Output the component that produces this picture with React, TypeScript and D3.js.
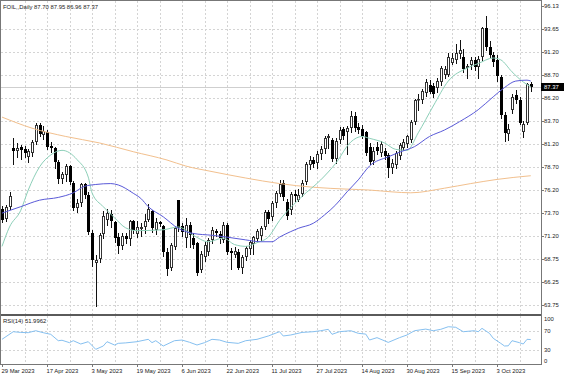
import React from 'react';
import * as d3 from 'd3';

const title = 'FOIL,,Daily  87.70 87.95 86.96 87.37';
const rsiTitle = 'RSI(14) 51.9962';
const lastPrice = 87.37;

const dateLabels = ['29 Mar 2023', '17 Apr 2023', '3 May 2023', '19 May 2023', '6 Jun 2023', '22 Jun 2023', '11 Jul 2023', '27 Jul 2023', '14 Aug 2023', '30 Aug 2023', '15 Sep 2023', '3 Oct 2023'];
const dateLabelBars = [0, 12, 24, 36, 48, 60, 72, 84, 96, 108, 120, 132];

const priceTicks = [96.13, 93.65, 91.2, 88.7, 86.2, 83.7, 81.2, 78.7, 76.2, 73.7, 71.2, 68.75, 66.25, 63.75];
const rsiTicks = [100, 70, 30, 0];
const rsiLevels = [70, 30];

// OHLC per daily bar, 29 Mar 2023 .. 16 Oct 2023
const opens = [74.2, 73.1, 74.4, 80.8, 80.4, 80.9, 80.6, 79.8, 80.2, 81.4, 83.2, 82.2, 82.5, 81.0, 80.7, 79.2, 77.4, 77.8, 78.8, 77.0,
  74.3, 74.8, 76.8, 75.7, 71.6, 68.3, 68.7, 71.4, 73.0, 73.6, 72.7, 71.1, 70.1, 71.2, 70.9, 72.8, 71.4, 72.0, 72.2, 73.0,
  73.9, 71.9, 72.7, 72.3, 69.5, 67.8, 70.0, 75.1, 72.3, 71.0, 72.4, 71.0, 70.5, 67.5, 68.9, 69.5, 70.8, 71.8, 71.4, 70.8,
  72.4, 69.6, 69.2, 69.5, 67.8, 68.9, 69.8, 70.4, 70.9, 71.2, 72.2, 73.8, 73.3, 74.8, 75.8, 77.0, 74.9, 74.0, 75.8, 75.1,
  75.8, 77.1, 78.9, 79.5, 79.1, 80.1, 80.6, 81.8, 81.6, 79.6, 81.6, 82.8, 82.5, 82.9, 84.2, 83.0, 82.8, 82.5, 80.9, 79.3,
  80.9, 80.2, 80.4, 80.0, 78.6, 78.9, 79.9, 80.8, 81.2, 81.6, 83.6, 85.9, 86.0, 86.7, 87.6, 87.5, 87.3, 87.9, 88.7, 88.7,
  90.0, 90.3, 90.9, 90.6, 89.4, 89.7, 90.3, 89.5, 90.6, 93.7, 91.7, 90.8, 90.3, 88.4, 84.3, 82.3, 84.9, 86.5, 86.0, 82.5,
  83.5, 87.70];
const highs = [74.5, 74.6, 76.0, 81.8, 81.3, 81.1, 81.0, 80.6, 81.6, 83.5, 83.5, 83.1, 82.7, 81.4, 80.9, 79.5, 78.1, 79.0, 78.9, 77.2,
  75.2, 77.0, 77.0, 76.0, 71.9, 69.2, 71.6, 73.9, 74.2, 74.0, 72.9, 71.6, 71.6, 71.6, 73.0, 73.0, 72.8, 72.6, 73.6, 74.7,
  74.0, 73.2, 72.9, 72.4, 69.9, 70.5, 72.3, 75.1, 72.6, 73.2, 72.7, 71.6, 70.6, 69.6, 70.6, 71.0, 72.2, 72.0, 71.8, 72.7,
  72.6, 69.9, 70.0, 69.8, 69.2, 70.1, 70.8, 71.2, 72.0, 72.3, 74.0, 74.0, 75.0, 76.1, 77.3, 77.3, 75.2, 76.0, 76.2, 76.3,
  77.3, 79.2, 79.9, 79.8, 80.4, 81.0, 82.0, 82.3, 81.8, 81.8, 83.0, 83.0, 83.1, 84.8, 84.6, 83.5, 83.2, 82.6, 81.3, 80.9,
  81.4, 81.5, 80.7, 80.2, 79.6, 80.4, 81.3, 81.7, 82.2, 83.8, 86.1, 86.6, 87.1, 88.2, 88.1, 87.8, 88.3, 89.6, 89.6, 91.0,
  91.0, 92.0, 92.4, 91.5, 89.9, 90.6, 90.6, 90.7, 93.9, 95.05, 92.3, 91.2, 90.8, 88.7, 84.6, 83.4, 86.6, 87.0, 86.3, 83.7,
  87.8, 87.95];
const lows = [72.7, 72.9, 74.2, 79.0, 79.8, 79.6, 79.8, 79.2, 79.9, 81.2, 82.0, 81.7, 80.6, 80.3, 78.6, 77.0, 77.0, 77.2, 76.8, 74.0,
  73.8, 74.5, 75.3, 71.4, 68.0, 63.65, 68.4, 71.0, 72.4, 72.2, 70.6, 69.4, 69.8, 70.5, 70.2, 71.5, 71.1, 71.2, 71.5, 72.8,
  71.7, 71.4, 72.3, 69.1, 67.0, 67.5, 69.8, 71.8, 71.2, 70.0, 70.0, 69.9, 67.0, 67.3, 68.5, 69.2, 70.5, 71.2, 70.5, 70.6,
  69.3, 67.6, 68.9, 67.6, 67.2, 68.6, 69.3, 69.3, 70.6, 70.8, 72.0, 72.6, 73.0, 74.4, 75.5, 75.1, 73.1, 73.6, 75.0, 75.0,
  75.5, 76.9, 78.5, 78.7, 78.6, 79.6, 80.2, 80.8, 79.3, 79.1, 81.3, 81.7, 80.1, 82.5, 82.6, 82.4, 81.8, 80.0, 79.0, 79.0,
  80.1, 79.9, 79.6, 77.6, 78.0, 78.6, 79.6, 80.5, 80.9, 81.4, 83.4, 84.9, 85.6, 86.4, 86.7, 86.3, 86.8, 87.6, 88.3, 88.5,
  89.9, 90.0, 90.5, 89.0, 88.3, 89.3, 89.2, 88.3, 90.3, 91.4, 90.6, 89.6, 88.0, 84.0, 81.5, 81.6, 84.5, 85.6, 83.3, 81.9,
  83.3, 86.96];
const closes = [73.0, 74.4, 75.6, 80.4, 80.8, 80.5, 80.2, 80.4, 81.4, 83.2, 82.3, 82.6, 80.9, 80.8, 79.2, 77.4, 77.9, 78.8, 77.1, 74.3,
  74.8, 76.8, 75.7, 71.7, 68.6, 68.6, 71.3, 73.4, 73.7, 72.8, 71.0, 70.1, 71.2, 70.9, 72.8, 71.9, 72.2, 72.2, 72.9, 74.2,
  72.1, 72.7, 72.5, 69.5, 67.6, 70.3, 72.1, 72.1, 71.7, 72.4, 71.3, 70.3, 67.2, 69.3, 70.3, 70.8, 71.9, 71.5, 71.0, 72.4,
  69.5, 69.4, 69.6, 67.8, 68.9, 69.9, 70.6, 71.1, 71.8, 72.1, 73.8, 73.1, 74.8, 75.9, 76.9, 75.4, 73.4, 75.8, 75.5, 75.7,
  77.0, 79.0, 79.5, 79.0, 80.1, 80.6, 81.8, 82.1, 79.6, 81.5, 82.7, 82.0, 82.9, 84.2, 82.9, 82.7, 82.1, 80.2, 79.2, 80.4,
  80.4, 81.2, 79.9, 78.6, 79.1, 80.2, 81.1, 81.4, 82.0, 83.6, 86.0, 86.1, 86.9, 87.9, 86.8, 86.6, 88.0, 89.4, 89.3, 90.6,
  90.5, 91.0, 91.4, 89.3, 89.6, 90.3, 89.5, 90.4, 93.7, 91.7, 90.8, 90.1, 88.5, 84.3, 82.4, 82.8, 86.3, 86.0, 83.5, 83.3,
  87.7, 87.37];

// Indicator readings: [bar index, value]
const fastMA: [number, number][] = [[0, 70.1], [2, 72.2], [5, 74.0], [7, 76.2], [10, 78.7], [13, 80.0], [16, 80.5], [20, 79.5], [23, 77.6], [24, 75.9],
  [27, 74.4], [30, 73.2], [33, 72.1], [36, 71.8], [43, 71.9], [47, 72.2], [51, 71.3], [55, 70.6], [59, 71.0], [62, 70.3], [65, 70.1],
  [68, 70.5], [71, 71.1], [74, 72.9], [80, 75.5], [85, 77.3], [89, 79.1], [93, 81.4], [96, 82.0], [98, 81.8], [102, 81.3], [105, 80.6],
  [108, 80.5], [111, 82.4], [115, 85.3], [119, 88.0], [124, 89.4], [127, 89.9], [131, 90.5], [133, 90.3], [136, 89.0], [139, 87.9], [141, 87.4]];
const midMA: [number, number][] = [[0, 73.7], [5, 74.4], [10, 75.1], [15, 75.4], [19, 75.9], [22, 76.6], [25, 76.8], [29, 76.9], [31, 76.75],
  [35, 75.85], [37, 75.3], [39, 74.4], [43, 73.3], [47, 72.05], [51, 71.5], [56, 71.3], [60, 71.1], [65, 70.8], [69, 70.6], [72, 70.6],
  [74, 71.1], [77, 71.7], [79, 72.05], [83, 72.6], [86, 73.5], [89, 74.6], [92, 76.0], [95, 77.3], [98, 78.8], [103, 79.8], [106, 80.3],
  [110, 80.9], [114, 82.0], [118, 82.7], [122, 83.6], [127, 84.9], [131, 86.3], [134, 87.3], [137, 88.0], [140, 88.1], [141, 88.0]];
const slowMA: [number, number][] = [[0, 84.1], [8, 82.9], [17, 82.0], [26, 81.3], [35, 80.35], [44, 79.45], [49, 78.8], [56, 78.2], [65, 77.5],
  [74, 76.9], [83, 76.5], [92, 76.3], [98, 76.2], [104, 76.0], [109, 75.9], [118, 76.4], [125, 76.9], [132, 77.35], [141, 77.75]];
const rsi: [number, number][] = [[0, 52.5], [3, 68.5], [5, 67], [7, 66.5], [9, 70.6], [11, 66.4], [13, 63], [15, 49.6], [16, 50.5], [18, 45.4],
  [19, 49.6], [21, 42.6], [23, 47.5], [25, 31.4], [27, 38.4], [28, 47.5], [30, 40.5], [31, 44.0], [33, 45], [36, 47.5], [39, 52.5],
  [40, 45.5], [41, 49.6], [43, 38.4], [46, 49.6], [48, 51], [50, 46.3], [52, 40.5], [54, 45.4], [56, 52.5], [58, 51], [60, 46.2],
  [63, 44.0], [65, 49.6], [68, 52.5], [71, 59.5], [74, 68.5], [75, 59.5], [77, 61.6], [80, 67], [83, 68.5], [85, 70.6], [87, 73.5],
  [88, 63], [90, 68.5], [93, 70.6], [95, 65.1], [97, 63.5], [98, 51], [100, 56], [103, 46], [106, 56], [108, 61.6], [110, 70.6],
  [113, 74], [115, 70.6], [117, 73.5], [119, 79], [121, 77.8], [123, 68.5], [126, 70.6], [127, 68.5], [128, 75.6], [130, 65],
  [131, 54.6], [133, 44], [134, 38.4], [135, 38.8], [136, 49.6], [138, 45.4], [139, 42.6], [140, 52.5], [141, 52.0]];

const W = 564;
const H = 376;
const left = 1;
const right = 541;
const mainTop = 1;
const mainBottom = 314;
const rsiTop = 316;
const rsiBottom = 364;
const FONT = '"Liberation Sans", Arial, sans-serif';
const FS = 5.9;

export default function App() {
  const n = closes.length;
  const x = d3.scaleLinear().domain([0, n - 1]).range([2, 530.75]);
  const y = d3.scaleLinear().domain([63.75, 96.13]).range([305, 6]);
  const ry = d3.scaleLinear().domain([0, 100]).range([364.25, 316.75]);

  const mainLine = d3.line<[number, number]>().x(d => x(d[0])).y(d => y(d[1])).curve(d3.curveMonotoneX);
  const rsiLine = d3.line<[number, number]>().x(d => x(d[0])).y(d => ry(d[1]));

  const gridBars = d3.range(6, n, 6);
  const gridColor = '#d4d4d4';
  const dash = '2,2';

  return (
    <svg width={W} height={H} style={{ position: 'absolute', left: 0, top: 0, background: '#fff' }} fontFamily={FONT}>
      <rect x={0} y={0} width={W} height={H} fill="#fff" />
      {/* vertical grid */}
      {gridBars.map(b => (
        <g key={'vg' + b}>
          <line x1={Math.round(x(b)) + 0.5} x2={Math.round(x(b)) + 0.5} y1={mainTop} y2={mainBottom} stroke={gridColor} strokeDasharray={dash} />
          <line x1={Math.round(x(b)) + 0.5} x2={Math.round(x(b)) + 0.5} y1={rsiTop} y2={rsiBottom} stroke={gridColor} strokeDasharray={dash} />
        </g>
      ))}
      {/* horizontal grid */}
      {priceTicks.slice(1).map(p => (
        <line key={'hg' + p} x1={left} x2={right} y1={Math.round(y(p)) + 0.5} y2={Math.round(y(p)) + 0.5} stroke={gridColor} strokeDasharray={dash} />
      ))}
      {rsiLevels.map(v => (
        <line key={'rl' + v} x1={left} x2={right} y1={Math.round(ry(v)) + 0.5} y2={Math.round(ry(v)) + 0.5} stroke={gridColor} strokeDasharray={dash} />
      ))}
      {/* bid line */}
      <line x1={left} x2={right} y1={Math.round(y(lastPrice)) + 0.5} y2={Math.round(y(lastPrice)) + 0.5} stroke="#cfcfcf" />

      {/* candles */}
      {closes.map((c, i) => {
        const o = opens[i];
        const px = Math.round(x(i));
        const top = Math.round(y(Math.max(o, c)));
        const bot = Math.round(y(Math.min(o, c)));
        const up = c >= o;
        const h = Math.max(1, bot - top);
        return (
          <g key={'c' + i}>
            <line x1={px + 0.5} x2={px + 0.5} y1={Math.round(y(highs[i]))} y2={Math.round(y(lows[i])) + 1} stroke="#111" strokeWidth={1} />
            {up ? (
              <rect x={px - 0.5} y={top + 0.5} width={2} height={Math.max(0.5, h - 1)} fill="#fff" stroke="#333" strokeWidth={1} />
            ) : (
              <rect x={px - 1} y={top} width={3} height={h} fill="#000" />
            )}
          </g>
        );
      })}

      {/* moving averages */}
      <path d={mainLine(slowMA) || ''} fill="none" stroke="#f2c08e" strokeWidth={1} />
      <path d={mainLine(fastMA) || ''} fill="none" stroke="#8ccfb8" strokeWidth={1} />
      <path d={mainLine(midMA) || ''} fill="none" stroke="#5a5ad8" strokeWidth={1} />

      {/* RSI */}
      <path d={rsiLine(rsi) || ''} fill="none" stroke="#86c0f0" strokeWidth={1} />

      {/* frames */}
      <rect x={left - 0.5} y={mainTop - 0.5} width={right - left + 1} height={rsiBottom - mainTop + 1} fill="none" stroke="#777" />
      <line x1={left} x2={right} y1={315} y2={315} stroke="#5a5a5a" strokeWidth={2} />

      {/* price axis */}
      {priceTicks.map(p => (
        <g key={'pt' + p}>
          <line x1={right} x2={right + 3} y1={Math.round(y(p)) + 0.5} y2={Math.round(y(p)) + 0.5} stroke="#777" />
          <text x={544} y={y(p)} dy="0.35em" fontSize={FS} fill="#222">{p.toFixed(2)}</text>
        </g>
      ))}
      <rect x={541} y={Math.round(y(lastPrice)) - 4} width={23} height={8} fill="#000" />
      <text x={544} y={y(lastPrice)} dy="0.35em" fontSize={FS} fill="#fff">{lastPrice.toFixed(2)}</text>

      {/* rsi axis */}
      {rsiTicks.map(v => {
        const yy = v === 100 ? 319.3 : v === 0 ? 361 : ry(v);
        return <text key={'rt' + v} x={544} y={yy} dy="0.35em" fontSize={FS} fill="#222">{v}</text>;
      })}

      {/* date axis */}
      {dateLabelBars.map((b, k) => (
        <g key={'d' + b}>
          <line x1={Math.round(x(b)) + 0.5} x2={Math.round(x(b)) + 0.5} y1={rsiBottom} y2={rsiBottom + 3} stroke="#777" />
          <text x={x(b) - 0.5} y={370.7} dy="0.35em" fontSize={FS} fill="#222">{dateLabels[k]}</text>
        </g>
      ))}

      {/* titles */}
      <text x={3} y={6.5} dy="0.35em" fontSize={FS} fill="#222">{title}</text>
      <text x={3} y={320.5} dy="0.35em" fontSize={FS} fill="#222">{rsiTitle}</text>
    </svg>
  );
}
